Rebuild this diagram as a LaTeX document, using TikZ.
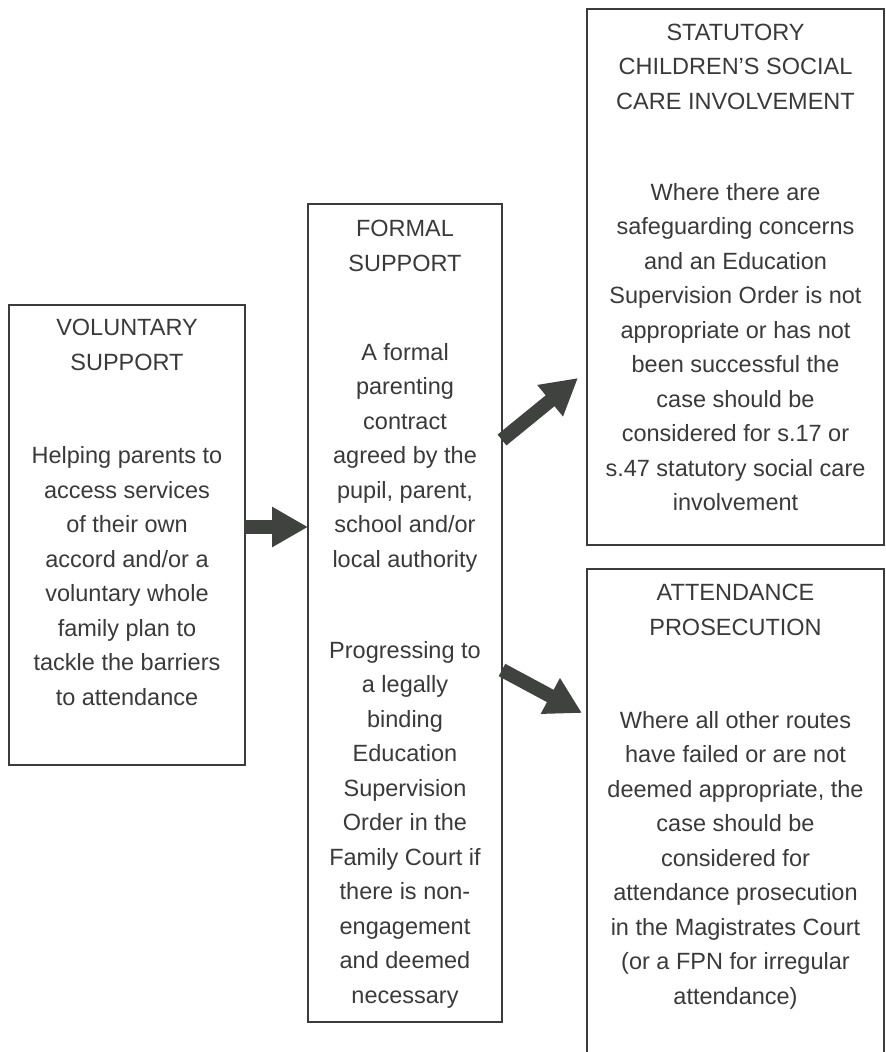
\documentclass[tikz,border=0pt]{standalone}
\usepackage{fontspec}
\setmainfont{Liberation Sans}
\usetikzlibrary{arrows.meta}
\definecolor{ink}{HTML}{3A3A3A}
\definecolor{frame}{HTML}{3C3C3C}
\definecolor{arrowfill}{HTML}{3F423F}
\begin{document}
\begin{tikzpicture}[x=1pt,y=-1pt,
  panel/.style={draw=frame, line width=1.3pt, inner sep=0pt, outer sep=0pt},
  label/.style={text=ink, align=center, inner sep=0pt,
    font=\fontsize{23.5pt}{34.5pt}\selectfont},
  blockarrow/.style={draw=arrowfill, line width=14pt,
    -{Triangle[length=36pt,width=38pt]}}]
\useasboundingbox (0,0) rectangle (886,1052);
\fill[white] (0,0) rectangle (886,1052);

% frames
\node[panel, minimum width=236pt, minimum height=460pt] (vol) at (127,535) {};
\node[panel, minimum width=194pt, minimum height=818pt] (formal) at (405,613) {};
\node[panel, minimum width=297pt, minimum height=536pt] (stat) at (735.5,277) {};
\node[panel, minimum width=297pt, minimum height=501pt] (att) at (735.5,819.5) {};

% voluntary support
\node[label] (volhead) at (127,345) {VOLUNTARY\\SUPPORT};
\node[label] (volbody) at (127,576) {Helping parents to\\access services\\of their own\\accord and/or a\\voluntary whole\\family plan to\\tackle the barriers\\to attendance};

% formal support
\node[label] (formhead) at (405,246) {FORMAL\\SUPPORT};
\node[label] (formbodya) at (405,457.5) {A formal\\parenting\\contract\\agreed by the\\pupil, parent,\\school and/or\\local authority};
\node[label] (formbodyb) at (405,824.5) {Progressing to\\a legally\\binding\\Education\\Supervision\\Order in the\\Family Court if\\there is non-\\engagement\\and deemed\\necessary};

% statutory social care
\node[label] (stathead) at (735.5,66.5) {STATUTORY\\CHILDREN'S SOCIAL\\CARE INVOLVEMENT};
\node[label] (statbody) at (735.5,347) {Where there are\\safeguarding concerns\\and an Education\\Supervision Order is not\\appropriate or has not\\been successful the\\case should be\\considered for s.17 or\\s.47 statutory social care\\involvement};

% attendance prosecution
\node[label] (atthead) at (735.5,610) {ATTENDANCE\\PROSECUTION};
\node[label] (attbody) at (735.5,860) {Where all other routes\\have failed or are not\\deemed appropriate, the\\case should be\\considered for\\attendance prosecution\\in the Magistrates Court\\(or a FPN for irregular\\attendance)};

% escalation arrows
\draw[blockarrow] ([yshift=8pt]vol.east) -- ([yshift=86pt]formal.west);
\draw[blockarrow] ([yshift=173pt]formal.east) -- ([xshift=-9pt,yshift=-101pt]stat.west);
\draw[blockarrow] ([yshift=-57pt]formal.east) -- ([xshift=-5pt,yshift=106.5pt]att.west);
\end{tikzpicture}
\end{document}
